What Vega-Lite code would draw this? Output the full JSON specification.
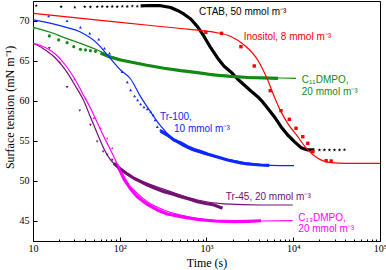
{
  "$schema": "https://vega.github.io/schema/vega-lite/v6.json",
  "width": 347,
  "height": 240,
  "autosize": {"type": "none"},
  "padding": {"left": 33, "top": 1, "right": 6, "bottom": 29},
  "background": "white",
  "config": {
    "view": {"stroke": "black", "strokeWidth": 1},
    "axis": {
      "domainColor": "black", "tickColor": "black", "labelColor": "black", "titleColor": "black",
      "labelFont": "Liberation Serif", "titleFont": "Liberation Serif",
      "labelFontSize": 10, "titleFontSize": 12, "titleFontWeight": "normal", "grid": false
    }
  },
  "datasets": {
    "fit": [
      {"s": "Inositol", "t": 10.08, "g": 70.92}, {"s": "Inositol", "t": 60, "g": 70.05}, {"s": "Inositol", "t": 227, "g": 69.40}, {"s": "Inositol", "t": 505, "g": 69.02}, {"s": "Inositol", "t": 859, "g": 68.77}, {"s": "Inositol", "t": 1281, "g": 68.52}, {"s": "Inositol", "t": 1909, "g": 68.03}, {"s": "Inositol", "t": 2720, "g": 66.96}, {"s": "Inositol", "t": 3890, "g": 65.09}, {"s": "Inositol", "t": 5075, "g": 62.59}, {"s": "Inositol", "t": 6045, "g": 60.50}, {"s": "Inositol", "t": 7225, "g": 58.63}, {"s": "Inositol", "t": 8630, "g": 57.17}, {"s": "Inositol", "t": 11270, "g": 55.50}, {"s": "Inositol", "t": 14710, "g": 53.84}, {"s": "Inositol", "t": 19190, "g": 52.80}, {"s": "Inositol", "t": 27350, "g": 52.25}, {"s": "Inositol", "t": 40740, "g": 52.17}, {"s": "Inositol", "t": 100000, "g": 52.17},
      {"s": "C11DMPO", "t": 10.08, "g": 69.17}, {"s": "C11DMPO", "t": 15.85, "g": 68.55}, {"s": "C11DMPO", "t": 22.6, "g": 67.92}, {"s": "C11DMPO", "t": 55.0, "g": 66.34}, {"s": "C11DMPO", "t": 78.3, "g": 65.59}, {"s": "C11DMPO", "t": 133.4, "g": 64.87}, {"s": "C11DMPO", "t": 323.6, "g": 64.05}, {"s": "C11DMPO", "t": 1122, "g": 63.34}, {"s": "C11DMPO", "t": 3252, "g": 62.96}, {"s": "C11DMPO", "t": 10770, "g": 62.80},
      {"s": "Tr-100", "t": 10.08, "g": 70.09}, {"s": "Tr-100", "t": 22.6, "g": 69.25}, {"s": "Tr-100", "t": 35.2, "g": 68.59}, {"s": "Tr-100", "t": 55.0, "g": 67.17}, {"s": "Tr-100", "t": 74.8, "g": 65.50}, {"s": "Tr-100", "t": 102.1, "g": 63.84}, {"s": "Tr-100", "t": 133.4, "g": 62.71}, {"s": "Tr-100", "t": 173.9, "g": 60.50}, {"s": "Tr-100", "t": 227, "g": 58.59}, {"s": "Tr-100", "t": 296, "g": 56.84}, {"s": "Tr-100", "t": 422, "g": 55.09}, {"s": "Tr-100", "t": 603, "g": 54.05}, {"s": "Tr-100", "t": 1027, "g": 53.21}, {"s": "Tr-100", "t": 1909, "g": 52.59}, {"s": "Tr-100", "t": 3252, "g": 52.15}, {"s": "Tr-100", "t": 5535, "g": 51.92}, {"s": "Tr-100", "t": 10210, "g": 51.87},
      {"s": "Tr-45", "t": 10.08, "g": 67.17}, {"s": "Tr-45", "t": 13.87, "g": 66.34}, {"s": "Tr-45", "t": 18.1, "g": 65.34}, {"s": "Tr-45", "t": 23.6, "g": 63.84}, {"s": "Tr-45", "t": 30.8, "g": 61.84}, {"s": "Tr-45", "t": 38.1, "g": 60.09}, {"s": "Tr-45", "t": 45.9, "g": 57.96}, {"s": "Tr-45", "t": 55.4, "g": 55.84}, {"s": "Tr-45", "t": 66.7, "g": 53.84}, {"s": "Tr-45", "t": 78.3, "g": 52.59}, {"s": "Tr-45", "t": 96.85, "g": 51.59}, {"s": "Tr-45", "t": 133.4, "g": 50.50}, {"s": "Tr-45", "t": 208, "g": 49.67}, {"s": "Tr-45", "t": 386, "g": 48.63}, {"s": "Tr-45", "t": 787, "g": 47.59}, {"s": "Tr-45", "t": 1598, "g": 47.09}, {"s": "Tr-45", "t": 4245, "g": 46.96}, {"s": "Tr-45", "t": 9865, "g": 46.96},
      {"s": "C13DMPO", "t": 10.08, "g": 67.17}, {"s": "C13DMPO", "t": 13.87, "g": 66.65}, {"s": "C13DMPO", "t": 18.1, "g": 65.84}, {"s": "C13DMPO", "t": 23.6, "g": 64.46}, {"s": "C13DMPO", "t": 30.8, "g": 62.59}, {"s": "C13DMPO", "t": 38.1, "g": 60.71}, {"s": "C13DMPO", "t": 45.9, "g": 59.09}, {"s": "C13DMPO", "t": 55.4, "g": 57.21}, {"s": "C13DMPO", "t": 66.7, "g": 55.34}, {"s": "C13DMPO", "t": 78.3, "g": 53.84}, {"s": "C13DMPO", "t": 96.85, "g": 51.71}, {"s": "C13DMPO", "t": 110.6, "g": 50.09}, {"s": "C13DMPO", "t": 133.4, "g": 49.21}, {"s": "C13DMPO", "t": 208, "g": 47.38}, {"s": "C13DMPO", "t": 323.6, "g": 46.34}, {"s": "C13DMPO", "t": 505, "g": 45.71}, {"s": "C13DMPO", "t": 787, "g": 45.30}, {"s": "C13DMPO", "t": 1225, "g": 45.05}, {"s": "C13DMPO", "t": 2494, "g": 44.92}, {"s": "C13DMPO", "t": 4245, "g": 44.96}, {"s": "C13DMPO", "t": 9865, "g": 45.00}
    ],
    "trc": [
      {"s": "CTAB", "t": 173.9, "g": 71.84}, {"s": "CTAB", "t": 227, "g": 71.90}, {"s": "CTAB", "t": 296, "g": 71.87}, {"s": "CTAB", "t": 386, "g": 71.65}, {"s": "CTAB", "t": 462, "g": 71.28}, {"s": "CTAB", "t": 546.6, "g": 70.84}, {"s": "CTAB", "t": 658, "g": 70.21}, {"s": "CTAB", "t": 787, "g": 69.25}, {"s": "CTAB", "t": 930, "g": 68.09}, {"s": "CTAB", "t": 1122, "g": 66.59}, {"s": "CTAB", "t": 1340, "g": 65.34}, {"s": "CTAB", "t": 1585, "g": 64.34}, {"s": "CTAB", "t": 1909, "g": 63.59}, {"s": "CTAB", "t": 2281, "g": 62.71}, {"s": "CTAB", "t": 2720, "g": 61.96}, {"s": "CTAB", "t": 3252, "g": 61.21}, {"s": "CTAB", "t": 3890, "g": 60.50}, {"s": "CTAB", "t": 4440, "g": 59.84}, {"s": "CTAB", "t": 5075, "g": 59.05}, {"s": "CTAB", "t": 6045, "g": 58.00}, {"s": "CTAB", "t": 7225, "g": 56.75}, {"s": "CTAB", "t": 8630, "g": 55.71}, {"s": "CTAB", "t": 10300, "g": 54.88}, {"s": "CTAB", "t": 12300, "g": 54.13}, {"s": "CTAB", "t": 14710, "g": 53.84}, {"s": "CTAB", "t": 17540, "g": 53.84},
      {"s": "C11DMPO", "t": 60, "g": 65.96}, {"s": "C11DMPO", "t": 78.3, "g": 65.43}, {"s": "C11DMPO", "t": 102.1, "g": 65.09}, {"s": "C11DMPO", "t": 133.4, "g": 64.84}, {"s": "C11DMPO", "t": 198.7, "g": 64.46}, {"s": "C11DMPO", "t": 323.6, "g": 64.05}, {"s": "C11DMPO", "t": 505, "g": 63.75}, {"s": "C11DMPO", "t": 787, "g": 63.50}, {"s": "C11DMPO", "t": 1214, "g": 63.21}, {"s": "C11DMPO", "t": 1909, "g": 63.02}, {"s": "C11DMPO", "t": 3000, "g": 62.90}, {"s": "C11DMPO", "t": 4477, "g": 62.84}, {"s": "C11DMPO", "t": 6670, "g": 62.80},
      {"s": "Tr-100", "t": 296, "g": 56.21}, {"s": "Tr-100", "t": 354, "g": 55.71}, {"s": "Tr-100", "t": 422, "g": 55.09}, {"s": "Tr-100", "t": 505, "g": 54.71}, {"s": "Tr-100", "t": 603, "g": 54.25}, {"s": "Tr-100", "t": 719, "g": 53.90}, {"s": "Tr-100", "t": 859, "g": 53.63}, {"s": "Tr-100", "t": 1027, "g": 53.34}, {"s": "Tr-100", "t": 1225, "g": 53.09}, {"s": "Tr-100", "t": 1462, "g": 52.84}, {"s": "Tr-100", "t": 1749, "g": 52.59}, {"s": "Tr-100", "t": 2084, "g": 52.40}, {"s": "Tr-100", "t": 2494, "g": 52.21}, {"s": "Tr-100", "t": 2978, "g": 52.09}, {"s": "Tr-100", "t": 3548, "g": 52.02}, {"s": "Tr-100", "t": 4245, "g": 51.96}, {"s": "Tr-100", "t": 5295, "g": 51.92},
      {"s": "Tr-45", "t": 85.5, "g": 52.17}, {"s": "Tr-45", "t": 102.1, "g": 51.46}, {"s": "Tr-45", "t": 122.1, "g": 50.84}, {"s": "Tr-45", "t": 145.5, "g": 50.30}, {"s": "Tr-45", "t": 173.9, "g": 49.90}, {"s": "Tr-45", "t": 208, "g": 49.46}, {"s": "Tr-45", "t": 259.4, "g": 49.02}, {"s": "Tr-45", "t": 323.6, "g": 48.63}, {"s": "Tr-45", "t": 404.6, "g": 48.34}, {"s": "Tr-45", "t": 505, "g": 48.00}, {"s": "Tr-45", "t": 629, "g": 47.71}, {"s": "Tr-45", "t": 787, "g": 47.38}, {"s": "Tr-45", "t": 982, "g": 47.15}, {"s": "Tr-45", "t": 1225, "g": 46.96}, {"s": "Tr-45", "t": 1530, "g": 46.55},
      {"s": "C13DMPO", "t": 93.5, "g": 51.96}, {"s": "C13DMPO", "t": 111.5, "g": 50.30}, {"s": "C13DMPO", "t": 133.4, "g": 48.96}, {"s": "C13DMPO", "t": 159.3, "g": 48.00}, {"s": "C13DMPO", "t": 208, "g": 47.03}, {"s": "C13DMPO", "t": 271, "g": 46.34}, {"s": "C13DMPO", "t": 354, "g": 45.84}, {"s": "C13DMPO", "t": 505, "g": 45.50}, {"s": "C13DMPO", "t": 787, "g": 45.15}, {"s": "C13DMPO", "t": 1225, "g": 44.96}, {"s": "C13DMPO", "t": 2084, "g": 44.87}, {"s": "C13DMPO", "t": 2978, "g": 44.92}, {"s": "C13DMPO", "t": 4245, "g": 44.99}
    ],
    "pts": [
      {"s": "CTAB", "t": 10.9, "g": 71.88}, {"s": "CTAB", "t": 21.1, "g": 71.75}, {"s": "CTAB", "t": 30.3, "g": 71.67}, {"s": "CTAB", "t": 39.5, "g": 71.75}, {"s": "CTAB", "t": 45.9, "g": 71.72}, {"s": "CTAB", "t": 55.0, "g": 71.75}, {"s": "CTAB", "t": 62.8, "g": 71.78}, {"s": "CTAB", "t": 71.7, "g": 71.75}, {"s": "CTAB", "t": 81.9, "g": 71.78}, {"s": "CTAB", "t": 93.5, "g": 71.75}, {"s": "CTAB", "t": 106.9, "g": 71.80}, {"s": "CTAB", "t": 122.1, "g": 71.78}, {"s": "CTAB", "t": 139.5, "g": 71.82}, {"s": "CTAB", "t": 159.3, "g": 71.80},
      {"s": "CTAB", "t": 20040, "g": 53.84}, {"s": "CTAB", "t": 22880, "g": 53.84}, {"s": "CTAB", "t": 26120, "g": 53.84}, {"s": "CTAB", "t": 29850, "g": 53.84}, {"s": "CTAB", "t": 34120, "g": 53.84}, {"s": "CTAB", "t": 38980, "g": 53.86},
      {"s": "Inositol", "t": 982, "g": 68.55}, {"s": "Inositol", "t": 1490, "g": 68.42}, {"s": "Inositol", "t": 2494, "g": 66.75}, {"s": "Inositol", "t": 3550, "g": 64.34}, {"s": "Inositol", "t": 5435, "g": 61.25}, {"s": "Inositol", "t": 7225, "g": 58.75}, {"s": "Inositol", "t": 9010, "g": 57.67}, {"s": "Inositol", "t": 10770, "g": 56.55}, {"s": "Inositol", "t": 12880, "g": 55.50}, {"s": "Inositol", "t": 14710, "g": 54.67}, {"s": "Inositol", "t": 16800, "g": 53.62}, {"s": "Inositol", "t": 23930, "g": 52.50}, {"s": "Inositol", "t": 27350, "g": 52.46},
      {"s": "C11DMPO", "t": 10.0, "g": 69.05}, {"s": "C11DMPO", "t": 15.43, "g": 68.09}, {"s": "C11DMPO", "t": 19.77, "g": 67.59}, {"s": "C11DMPO", "t": 24.7, "g": 67.25}, {"s": "C11DMPO", "t": 29.5, "g": 66.75}, {"s": "C11DMPO", "t": 35.2, "g": 66.42}, {"s": "C11DMPO", "t": 40.3, "g": 66.34}, {"s": "C11DMPO", "t": 45.9, "g": 66.25}, {"s": "C11DMPO", "t": 52.5, "g": 66.17},
      {"s": "Tr-100", "t": 15.14, "g": 70.59}, {"s": "Tr-100", "t": 24.7, "g": 70.00}, {"s": "Tr-100", "t": 35.2, "g": 69.17}, {"s": "Tr-100", "t": 45.1, "g": 68.42}, {"s": "Tr-100", "t": 57.3, "g": 67.67}, {"s": "Tr-100", "t": 66.7, "g": 66.55}, {"s": "Tr-100", "t": 76.2, "g": 65.92}, {"s": "Tr-100", "t": 106.9, "g": 63.63}, {"s": "Tr-100", "t": 122.1, "g": 62.34}, {"s": "Tr-100", "t": 133.4, "g": 61.34}, {"s": "Tr-100", "t": 148.3, "g": 60.59}, {"s": "Tr-100", "t": 160.6, "g": 60.09}, {"s": "Tr-100", "t": 173.9, "g": 59.59}, {"s": "Tr-100", "t": 190, "g": 59.21}, {"s": "Tr-100", "t": 208, "g": 58.96}, {"s": "Tr-100", "t": 227, "g": 58.65}, {"s": "Tr-100", "t": 242.7, "g": 58.21}, {"s": "Tr-100", "t": 255.9, "g": 57.59}, {"s": "Tr-100", "t": 271, "g": 56.75}, {"s": "Tr-100", "t": 296, "g": 56.34},
      {"s": "Tr-45", "t": 15.43, "g": 66.55}, {"s": "Tr-45", "t": 24.7, "g": 61.68}, {"s": "Tr-45", "t": 34.6, "g": 58.75}, {"s": "Tr-45", "t": 45.9, "g": 56.96}, {"s": "Tr-45", "t": 55.0, "g": 54.88}, {"s": "Tr-45", "t": 64.4, "g": 53.63}, {"s": "Tr-45", "t": 71.7, "g": 53.21}, {"s": "Tr-45", "t": 81.9, "g": 52.59},
      {"s": "C13DMPO", "t": 20.3, "g": 64.87}, {"s": "C13DMPO", "t": 30.0, "g": 62.68}, {"s": "C13DMPO", "t": 40.3, "g": 60.30}, {"s": "C13DMPO", "t": 50.2, "g": 57.84}, {"s": "C13DMPO", "t": 60.0, "g": 56.59}, {"s": "C13DMPO", "t": 71.7, "g": 55.30}, {"s": "C13DMPO", "t": 81.9, "g": 54.09}
    ],
    "lab": [
      {"s": "CTAB", "t": 821, "g": 71.05, "text": "CTAB, 50 mmol m⁻³"},
      {"s": "Inositol", "t": 2679, "g": 68.0, "text": "Inositol, 8 mmol m⁻³"},
      {"s": "C11DMPO", "t": 12540, "g": 62.59, "text": "C₁₁DMPO,"},
      {"s": "C11DMPO", "t": 12540, "g": 61.12, "text": "20 mmol m⁻³"},
      {"s": "Tr-100", "t": 290.8, "g": 57.92, "text": "Tr-100,"},
      {"s": "Tr-100", "t": 422, "g": 56.42, "text": "10 mmol m⁻³"},
      {"s": "Tr-45", "t": 1672, "g": 47.92, "text": "Tr-45, 20 mmol m⁻³"},
      {"s": "C13DMPO", "t": 11450, "g": 45.3, "text": "C₁₃DMPO,"},
      {"s": "C13DMPO", "t": 11450, "g": 43.92, "text": "20 mmol m⁻³"}
    ]
  },
  "encoding": {
    "x": {
      "field": "t", "type": "quantitative",
      "scale": {"type": "log", "domain": [10, 100000], "nice": false},
      "axis": {
        "values": [10, 20, 30, 40, 50, 60, 70, 80, 90, 100, 200, 300, 400, 500, 600, 700, 800, 900, 1000, 2000, 3000, 4000, 5000, 6000, 7000, 8000, 9000, 10000, 20000, 30000, 40000, 50000, 60000, 70000, 80000, 90000, 100000],
        "labelExpr": "datum.value == 10 ? '10' : datum.value == 100 ? '10²' : datum.value == 1000 ? '10³' : datum.value == 10000 ? '10⁴' : datum.value == 100000 ? '10⁵' : ''",
        "tickSize": {"condition": {"test": "indexof([10,100,1000,10000,100000], datum.value) >= 0", "value": -4}, "value": -2},
        "labelPadding": 6, "labelOverlap": false, "labelFlush": false,
        "title": "Time (s)", "titleY": 21, "titleBaseline": "middle"
      }
    },
    "y": {
      "field": "g", "type": "quantitative",
      "scale": {"domain": [42.46, 72.46], "nice": false, "zero": false},
      "axis": {
        "values": [45, 50, 55, 60, 65, 70], "tickSize": -4, "labelPadding": 8,
        "title": "Surface tension (mN m⁻¹)", "titleX": -24, "titleY": 106, "titleBaseline": "middle"
      }
    }
  },
  "layer": [
    {
      "data": {"name": "trc"},
      "mark": {"type": "line", "strokeWidth": 3.2, "strokeJoin": "round", "clip": true},
      "encoding": {
        "color": {"field": "s", "type": "nominal", "legend": null,
          "scale": {"domain": ["CTAB", "Inositol", "C11DMPO", "Tr-100", "Tr-45", "C13DMPO"], "range": ["#000000", "#ff0000", "#138a13", "#0a28ff", "#740f74", "#ff00ff"]}}
      }
    },
    {
      "data": {"name": "pts"},
      "mark": {"type": "point", "filled": true, "opacity": 1, "clip": true},
      "encoding": {
        "color": {"field": "s", "type": "nominal", "legend": null,
          "scale": {"domain": ["CTAB", "Inositol", "C11DMPO", "Tr-100", "Tr-45", "C13DMPO"], "range": ["#000000", "#ff0000", "#138a13", "#0a28ff", "#740f74", "#ff00ff"]}},
        "shape": {"field": "s", "type": "nominal", "legend": null,
          "scale": {"domain": ["CTAB", "Inositol", "C11DMPO", "Tr-100", "Tr-45", "C13DMPO"], "range": ["M0,-1L0.24,-0.33L0.95,-0.31L0.38,0.12L0.59,0.81L0,0.4L-0.59,0.81L-0.38,0.12L-0.95,-0.31L-0.24,-0.33Z", "square", "circle", "triangle-up", "triangle-down", "triangle-up"]}},
        "size": {"field": "s", "type": "nominal", "legend": null,
          "scale": {"domain": ["CTAB", "Inositol", "C11DMPO", "Tr-100", "Tr-45", "C13DMPO"], "range": [13, 6, 9, 11, 11, 11]}}
      }
    },
    {
      "data": {"name": "fit"},
      "mark": {"type": "line", "strokeWidth": 1.2, "interpolate": "monotone", "clip": true},
      "encoding": {
        "color": {"field": "s", "type": "nominal", "legend": null,
          "scale": {"domain": ["CTAB", "Inositol", "C11DMPO", "Tr-100", "Tr-45", "C13DMPO"], "range": ["#000000", "#ff0000", "#138a13", "#0a28ff", "#740f74", "#ff00ff"]}}
      }
    },
    {
      "data": {"name": "lab"},
      "mark": {"type": "text", "align": "left", "baseline": "middle", "font": "Liberation Sans", "fontSize": 10},
      "encoding": {
        "text": {"field": "text", "type": "nominal"},
        "color": {"field": "s", "type": "nominal", "legend": null,
          "scale": {"domain": ["CTAB", "Inositol", "C11DMPO", "Tr-100", "Tr-45", "C13DMPO"], "range": ["#000000", "#ff0000", "#138a13", "#0a28ff", "#740f74", "#ff00ff"]}}
      }
    }
  ]
}
